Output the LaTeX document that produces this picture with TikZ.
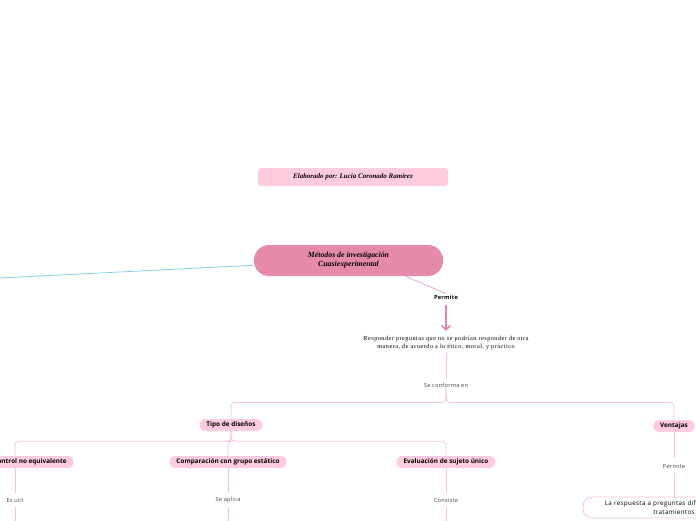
\documentclass[tikz,border=0pt]{standalone}
\usepackage{fontspec}
\setmainfont{Open Sans}
\newfontfamily\titlefont{Liberation Serif}
\newfontfamily\notefont[LetterSpace=8]{Liberation Serif}
\newfontfamily\boxfont[LetterSpace=5]{Open Sans}
\newfontfamily\linkfont[LetterSpace=5]{Open Sans}
\usetikzlibrary{arrows.meta,calc}

\definecolor{rosaFuerte}{HTML}{E68AAC}
\definecolor{rosaClaro}{HTML}{FFCCDD}
\definecolor{rosaLinea}{HTML}{F5C3D4}
\definecolor{rosaFlecha}{HTML}{E383A7}
\definecolor{celeste}{HTML}{86CEEA}

\begin{document}
\begin{tikzpicture}[
    x=1pt, y=-1pt,
    titulo/.style={rectangle, rounded corners=15pt, fill=rosaFuerte, minimum width=189pt,
      minimum height=31pt, align=center, inner sep=1pt,
      font=\titlefont\bfseries\itshape\fontsize{7.8}{9}\selectfont},
    autor/.style={rectangle, rounded corners=3pt, fill=rosaClaro, minimum width=190pt,
      minimum height=18pt, font=\titlefont\bfseries\itshape\fontsize{7}{8}\selectfont},
    tema/.style={rectangle, rounded corners=6pt, fill=rosaClaro, minimum height=12pt,
      inner xsep=7pt, inner ysep=1pt, font=\bfseries\fontsize{6.4}{7}\selectfont},
    enlace/.style={font=\linkfont\fontsize{5.6}{6}\selectfont, text=black!75, inner sep=1pt},
    nota/.style={font=\notefont\fontsize{6.2}{8.5}\selectfont, align=center, inner sep=1pt},
    caja/.style={rectangle, rounded corners=9pt, draw=rosaLinea, line width=0.8pt, fill=white,
      minimum height=21pt, text width=180pt, align=center, inner sep=1pt,
      font=\boxfont\fontsize{6.3}{8.5}\selectfont},
    rama/.style={draw=rosaLinea, line width=0.8pt, rounded corners=4pt},
    flecha/.style={-{Straight Barb[length=4pt,width=9pt,line width=1.6pt]}, draw=rosaFlecha,
      line width=1.8pt}
  ]
  \useasboundingbox (0,0) rectangle (696,520);

  \node[autor] (elaborado) at (353,177) {Elaborado por: Lucia Coronado Ramirez};
  \node[titulo] (metodos) at (348.5,260.5) {Métodos de investigación\\Cuasiexperimental};
  \coordinate (salida) at (0,278);
  \draw[celeste, line width=0.8pt] (metodos) -- (salida);

  \node[enlace, font=\linkfont\bfseries\fontsize{5.6}{6}\selectfont, text=black] (permite) at (446,297) {Permite};
  \draw[rama, draw=rosaFlecha!70] ($(metodos.south)+(57,0)$) -- (permite.north);
  \node[nota] (responder) at (446,343)
    {Responder preguntas que no se podrían responder de otra\\manera, de acuerdo a lo ético, moral, y práctico};
  \draw[flecha, shorten <=5pt, shorten >=4pt] (permite) -- (responder);
  \node[enlace] (conforma) at (446,385) {Se conforma en};
  \draw[rama, shorten <=2pt, shorten >=3pt] (responder) -- (conforma);

  % tipos de diseño y ventajas
  \node[tema] (tipo) at (231,425) {Tipo de diseños};
  \node[tema] (ventajas) at (674,426) {Ventajas};
  \draw[rama] (conforma.south) -- ++(0,14) -| (tipo.north);
  \draw[rama] (conforma.south) -- ++(0,14) -| (ventajas.north);

  \node[tema] (control) at (15,462) {Grupo de control no equivalente};
  \node[tema] (comparacion) at (228,462) {Comparación con grupo estático};
  \node[tema] (sujeto) at (446,462) {Evaluación de sujeto único};
  \foreach \n in {control,comparacion,sujeto}
    \draw[rama] (tipo.south) -- ++(0,10) -| (\n.north);

  \node[enlace] (util) at (15,500) {Es util};
  \node[enlace] (aplica) at (228,500) {Se aplica};
  \node[enlace] (consiste) at (446,500) {Consiste};
  \foreach \a/\b in {control/util,comparacion/aplica,sujeto/consiste} {
    \draw[rama, shorten >=4pt] (\a) -- (\b);
    \draw[rama, shorten <=4pt] (\b.south) -- ++(0,20);
  }

  \node[enlace] (permiteB) at (674,466) {Permite};
  \node[caja] (respuesta) at (674,507.5) {La respuesta a preguntas difíciles sobre los\\tratamientos};
  \draw[rama, shorten >=5pt] (ventajas) -- (permiteB);
  \draw[rama, shorten <=5pt] (permiteB) -- (respuesta);
\end{tikzpicture}
\end{document}
